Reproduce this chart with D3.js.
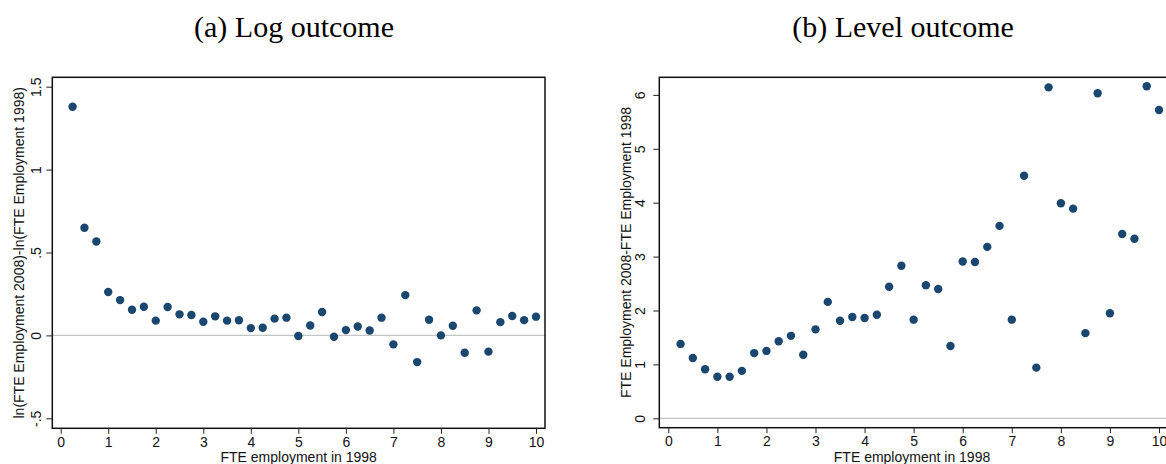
<!DOCTYPE html>
<html>
<head>
<meta charset="utf-8">
<script src="https://cdn.jsdelivr.net/npm/d3@7"></script>
<style>
  html, body { margin: 0; padding: 0; background: #fff; }
  svg { display: block; }
</style>
</head>
<body>
<svg id="chart" width="1166" height="464"></svg>
<script>
// ---------- DATA ----------
const fte1998 = [0.25, 0.5, 0.75, 1, 1.25, 1.5, 1.75, 2, 2.25, 2.5, 2.75, 3, 3.25, 3.5, 3.75, 4,
  4.25, 4.5, 4.75, 5, 5.25, 5.5, 5.75, 6, 6.25, 6.5, 6.75, 7, 7.25, 7.5, 7.75, 8,
  8.25, 8.5, 8.75, 9, 9.25, 9.5, 9.75, 10];

const logOutcome = [1.379, 0.649, 0.566, 0.262, 0.213, 0.155, 0.173, 0.089, 0.171, 0.127,
  0.123, 0.082, 0.115, 0.089, 0.091, 0.044, 0.046, 0.101, 0.107, -0.004,
  0.060, 0.141, -0.008, 0.032, 0.054, 0.030, 0.107, -0.054, 0.243, -0.161,
  0.094, 0.000, 0.058, -0.105, 0.151, -0.098, 0.080, 0.117, 0.092, 0.113];

const levelOutcome = [1.38, 1.12, 0.91, 0.77, 0.77, 0.88, 1.21, 1.25, 1.43, 1.53,
  1.18, 1.65, 2.16, 1.81, 1.88, 1.86, 1.92, 2.44, 2.83, 1.83,
  2.47, 2.40, 1.34, 2.91, 2.90, 3.18, 3.57, 1.83, 4.50, 0.94,
  6.14, 3.99, 3.89, 1.58, 6.03, 1.95, 3.42, 3.33, 6.16, 5.72];

const xTicks = [0, 1, 2, 3, 4, 5, 6, 7, 8, 9, 10];
const logTicks = [-0.5, 0, 0.5, 1, 1.5];
const logTickLabels = ["-.5", "0", ".5", "1", "1.5"];
const levelTicks = [0, 1, 2, 3, 4, 5, 6];
const levelTickLabels = ["0", "1", "2", "3", "4", "5", "6"];

const titles = ["(a) Log outcome", "(b) Level outcome"];
const xTitle = "FTE employment in 1998";
const yTitles = ["ln(FTE Employment 2008)-ln(FTE Employment 1998)", "FTE Employment 2008-FTE Employment 1998"];

// ---------- LAYOUT ----------
const svg = d3.select("#chart");
svg.append("rect").attr("width", 1166).attr("height", 464).attr("fill", "#fff");

const dotColor = "#1a476f";
const sans = "'Liberation Sans', Arial, sans-serif";
const serif = "'Liberation Serif', 'Times New Roman', serif";

const panels = [
  {
    title: titles[0], titleX: 294,
    frame: {left: 52.3, right: 545, top: 77.3, bottom: 428.3},
    x: d3.scaleLinear().domain([0, 10]).range([60.7, 536]),
    y: d3.scaleLinear().domain([-0.5, 1.5]).range([418.3, 86.7]),
    yTicks: logTicks, yLabels: logTickLabels, values: logOutcome,
    yTitle: yTitles[0], yTitleX: 23.5, yTickX: 40.5, xTitleX: 298.7
  },
  {
    title: titles[1], titleX: 903,
    frame: {left: 659.3, right: 1172, top: 77.3, bottom: 427.7},
    x: d3.scaleLinear().domain([0, 10]).range([668.3, 1159]),
    y: d3.scaleLinear().domain([0, 6]).range([418.3, 94.9]),
    yTicks: levelTicks, yLabels: levelTickLabels, values: levelOutcome,
    yTitle: yTitles[1], yTitleX: 631, yTickX: 645, xTitleX: 912
  }
];

panels.forEach(p => {
  const g = svg.append("g");
  const f = p.frame;

  // title
  g.append("text")
    .attr("x", p.titleX).attr("y", 37)
    .attr("text-anchor", "middle")
    .style("font-family", serif).style("font-size", "30px").style("fill", "#000")
    .text(p.title);

  // zero reference line
  g.append("line")
    .attr("x1", f.left).attr("x2", f.right)
    .attr("y1", p.y(0)).attr("y2", p.y(0))
    .attr("stroke", "#c4c4c4").attr("stroke-width", 1.3);

  // frame
  g.append("rect")
    .attr("x", f.left).attr("y", f.top)
    .attr("width", f.right - f.left).attr("height", f.bottom - f.top)
    .attr("fill", "none").attr("stroke", "#111").attr("stroke-width", 1.5);

  // x axis ticks
  const xAxis = g.append("g").attr("transform", `translate(0,${f.bottom})`)
    .call(d3.axisBottom(p.x).tickValues(xTicks).tickFormat(d3.format("d")).tickSize(5.5).tickPadding(3));
  xAxis.select(".domain").remove();
  xAxis.selectAll(".tick line").attr("stroke", "#222").attr("stroke-width", 1);
  xAxis.selectAll(".tick text").style("font-family", sans).style("font-size", "14px").attr("fill", "#111");

  // y axis ticks (rotated labels, Stata style)
  const yAxis = g.append("g").attr("transform", `translate(${f.left},0)`)
    .call(d3.axisLeft(p.y).tickValues(p.yTicks).tickFormat((d, i) => p.yLabels[i]).tickSize(6).tickPadding(3));
  yAxis.select(".domain").remove();
  yAxis.selectAll(".tick line").attr("stroke", "#222").attr("stroke-width", 1);
  yAxis.selectAll(".tick text")
    .attr("x", null).attr("dy", null)
    .attr("text-anchor", "middle")
    .attr("transform", `translate(${p.yTickX - f.left},0) rotate(-90)`)
    .style("font-family", sans).style("font-size", "14px").attr("fill", "#111");

  // axis titles
  g.append("text")
    .attr("x", p.xTitleX).attr("y", 462)
    .attr("text-anchor", "middle")
    .style("font-family", sans).style("font-size", "14px").attr("fill", "#111")
    .text(xTitle);

  g.append("text")
    .attr("transform", `translate(${p.yTitleX},${(f.top + f.bottom) / 2}) rotate(-90)`)
    .attr("text-anchor", "middle")
    .style("font-family", sans).style("font-size", "14px").attr("fill", "#111")
    .text(p.yTitle);

  // points
  g.append("g").selectAll("circle")
    .data(fte1998.map((xv, i) => ({x: xv, y: p.values[i]})))
    .join("circle")
    .attr("cx", d => p.x(d.x))
    .attr("cy", d => p.y(d.y))
    .attr("r", 4.2)
    .attr("fill", dotColor);
});
</script>
</body>
</html>
